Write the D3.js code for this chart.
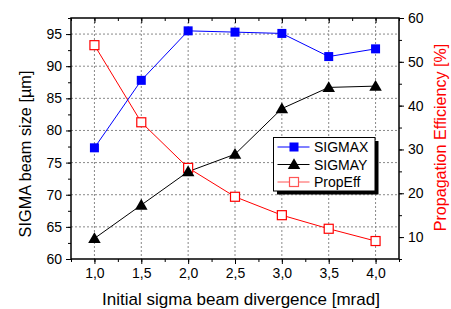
<!DOCTYPE html>
<html><head><meta charset="utf-8">
<script src="https://cdn.jsdelivr.net/npm/d3@7"></script>
<style>body{margin:0;background:#fff}svg{display:block;font-family:"Liberation Sans",Arial,sans-serif}</style>
</head><body><svg id="c" width="451" height="309"></svg>
<script>
const divergence = [1.0, 1.5, 2.0, 2.5, 3.0, 3.5, 4.0];
const sigmaX = [77.3, 87.8, 95.5, 95.3, 95.1, 91.5, 92.7];
const sigmaY = [63.2, 68.4, 73.6, 76.3, 83.4, 86.7, 86.9];
const propEff = [53.8, 36.2, 25.8, 19.2, 15.0, 11.9, 9.1];
const xTicks = [1.0, 1.5, 2.0, 2.5, 3.0, 3.5, 4.0];
const yLeftTicks = [60, 65, 70, 75, 80, 85, 90, 95];
const yRightTicks = [10, 20, 30, 40, 50, 60];
const seriesNames = ["SIGMAX", "SIGMAY", "PropEff"];

const svg = d3.select("#c");
const L = 71, R = 399, T = 18, B = 259;
const x = d3.scaleLinear().domain([0.75, 4.25]).range([L, R]);
const yL = d3.scaleLinear().domain([60, 97.5]).range([B, T]);
const yR = d3.scaleLinear().domain([5, 60]).range([B, T]);
const fmt = d => d3.format(".1f")(d).replace(".", ",");

// grid
const g = svg.append("g");
g.selectAll(".gx").data(xTicks).join("line")
  .attr("x1", d => x(d)).attr("x2", d => x(d)).attr("y1", T).attr("y2", B)
  .attr("stroke", "#888").attr("stroke-width", 1).attr("stroke-dasharray", "2,2");
g.selectAll(".gy").data(yLeftTicks.filter(d => d > 60)).join("line")
  .attr("x1", L).attr("x2", R).attr("y1", d => yL(d)).attr("y2", d => yL(d))
  .attr("stroke", "#888").attr("stroke-width", 1).attr("stroke-dasharray", "2,2");

// axes
const axStyle = sel => { sel.select(".domain").remove(); sel.selectAll("text").attr("font-size", 14).attr("fill", "#000").attr("font-family", "Liberation Sans, Arial, sans-serif"); sel.selectAll("line").attr("stroke", "#000").attr("stroke-width", 1); };
const minorX = d3.range(0.75, 4.26, 0.25);
const minorYL = d3.range(60, 97.6, 2.5);
const minorYR = d3.range(5, 60.1, 5);

svg.append("g").attr("transform", `translate(0,${B})`)
  .call(d3.axisBottom(x).tickValues(minorX).tickSize(3).tickFormat("")).call(axStyle);
svg.append("g").attr("transform", `translate(0,${B})`)
  .call(d3.axisBottom(x).tickValues(xTicks).tickSize(5).tickPadding(4).tickFormat(fmt)).call(axStyle);
svg.append("g").attr("transform", `translate(0,${T})`)
  .call(d3.axisBottom(x).tickValues(minorX).tickSize(3).tickFormat("")).call(axStyle);
svg.append("g").attr("transform", `translate(0,${T})`)
  .call(d3.axisBottom(x).tickValues(xTicks).tickSize(5).tickFormat("")).call(axStyle);

svg.append("g").attr("transform", `translate(${L},0)`)
  .call(d3.axisLeft(yL).tickValues(minorYL).tickSize(3).tickFormat("")).call(axStyle);
svg.append("g").attr("transform", `translate(${L},0)`)
  .call(d3.axisLeft(yL).tickValues(yLeftTicks).tickSize(5).tickPadding(4).tickFormat(d3.format("d"))).call(axStyle);

svg.append("g").attr("transform", `translate(${R},0)`)
  .call(d3.axisRight(yR).tickValues(minorYR).tickSize(3).tickFormat("")).call(axStyle);
svg.append("g").attr("transform", `translate(${R},0)`)
  .call(d3.axisRight(yR).tickValues(yRightTicks).tickSize(5).tickPadding(4).tickFormat(d3.format("d"))).call(axStyle);

// frame
svg.append("rect").attr("x", L).attr("y", T).attr("width", R - L).attr("height", B - T)
  .attr("fill", "none").attr("stroke", "#000").attr("stroke-width", 1.5);

// series
const data = divergence.map((d, i) => ({ x: d, sx: sigmaX[i], sy: sigmaY[i], pe: propEff[i] }));
const lineX = d3.line().x(d => x(d.x)).y(d => yL(d.sx));
const lineY = d3.line().x(d => x(d.x)).y(d => yL(d.sy));
const lineP = d3.line().x(d => x(d.x)).y(d => yR(d.pe));
svg.append("path").datum(data).attr("d", lineP).attr("fill", "none").attr("stroke", "#ff0000").attr("stroke-width", 1);
svg.append("path").datum(data).attr("d", lineY).attr("fill", "none").attr("stroke", "#000").attr("stroke-width", 1);
svg.append("path").datum(data).attr("d", lineX).attr("fill", "none").attr("stroke", "#0000ff").attr("stroke-width", 1);

const sq = 9;
svg.selectAll(".mp").data(data).join("rect")
  .attr("x", d => x(d.x) - sq / 2).attr("y", d => yR(d.pe) - sq / 2).attr("width", sq).attr("height", sq)
  .attr("fill", "#fff").attr("stroke", "#ff0000").attr("stroke-width", 1.2);
const tri = d3.symbol().type(d3.symbolTriangle).size(68);
svg.selectAll(".my").data(data).join("path")
  .attr("d", tri).attr("transform", d => `translate(${x(d.x)},${yL(d.sy) + 1})`).attr("fill", "#000");
svg.selectAll(".mx").data(data).join("rect")
  .attr("x", d => x(d.x) - sq / 2).attr("y", d => yL(d.sx) - sq / 2).attr("width", sq).attr("height", sq)
  .attr("fill", "#0000ff");

// titles
svg.append("text").attr("x", 241).attr("y", 305).attr("text-anchor", "middle").attr("font-size", 17)
  .text("Initial sigma beam divergence [mrad]");
svg.append("text").attr("transform", `translate(31,154) rotate(-90)`).attr("text-anchor", "middle").attr("font-size", 16.3)
  .text("SIGMA beam size [µm]");
svg.append("text").attr("transform", `translate(446,137.5) rotate(-90)`).attr("text-anchor", "middle").attr("font-size", 16.1)
  .attr("fill", "#ff0000")
  .text("Propagation Efficiency [%]");

// legend
const lg = svg.append("g").attr("transform", "translate(273.5,137.5)");
const lw = 101.5, lh = 53.5;
lg.append("rect").attr("x", 3.5).attr("y", 3.5).attr("width", lw).attr("height", lh).attr("fill", "#000");
lg.append("rect").attr("x", 0).attr("y", 0).attr("width", lw).attr("height", lh).attr("fill", "#fff").attr("stroke", "#000").attr("stroke-width", 1);
const colors = ["#0000ff", "#000", "#ff5555"];
seriesNames.forEach((n, i) => {
  const yy = 9.5 + i * 17.5;
  lg.append("line").attr("x1", 4).attr("x2", 36).attr("y1", yy).attr("y2", yy).attr("stroke", colors[i]).attr("stroke-width", 1);
  if (i === 0) lg.append("rect").attr("x", 16).attr("y", yy - 4.5).attr("width", 9).attr("height", 9).attr("fill", "#0000ff");
  if (i === 1) lg.append("path").attr("d", tri).attr("transform", `translate(20.5,${yy + 1})`).attr("fill", "#000");
  if (i === 2) lg.append("rect").attr("x", 16).attr("y", yy - 4.5).attr("width", 9).attr("height", 9).attr("fill", "#fff").attr("stroke", "#ff5555").attr("stroke-width", 1.2);
  lg.append("text").attr("x", 40.5).attr("y", yy).attr("dominant-baseline", "central").attr("font-size", 14).text(n);
});
</script></body></html>
